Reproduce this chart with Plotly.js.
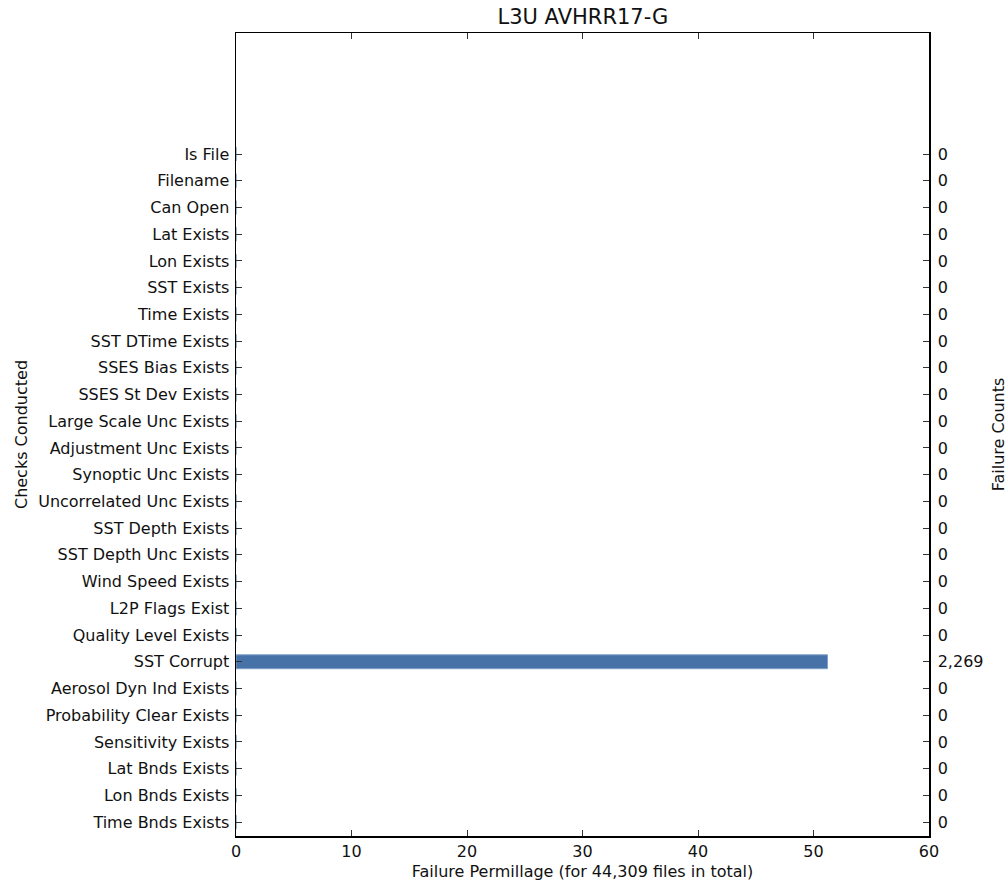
<!DOCTYPE html>
<html>
<head>
<meta charset="utf-8">
<script src="https://cdn.plot.ly/plotly-3.0.1.min.js"></script>
<style>html,body{margin:0;padding:0;background:#fff;}#chart{width:1008px;height:888px;}</style>
</head>
<body>
<div id="chart"></div>
<script>
const checks = ["Is File","Filename","Can Open","Lat Exists","Lon Exists","SST Exists","Time Exists","SST DTime Exists","SSES Bias Exists","SSES St Dev Exists","Large Scale Unc Exists","Adjustment Unc Exists","Synoptic Unc Exists","Uncorrelated Unc Exists","SST Depth Exists","SST Depth Unc Exists","Wind Speed Exists","L2P Flags Exist","Quality Level Exists","SST Corrupt","Aerosol Dyn Ind Exists","Probability Clear Exists","Sensitivity Exists","Lat Bnds Exists","Lon Bnds Exists","Time Bnds Exists"];
const failureCounts = [0,0,0,0,0,0,0,0,0,0,0,0,0,0,0,0,0,0,0,2269,0,0,0,0,0,0];
const failurePermille = [0,0,0,0,0,0,0,0,0,0,0,0,0,0,0,0,0,0,0,51.21,0,0,0,0,0,0];
const xTicks = [0,10,20,30,40,50,60];
const countLabels = failureCounts.map(v => v.toLocaleString('en-US'));
const idx = checks.map((_, i) => i);

const font = "DejaVu Sans, sans-serif";
const txt = '#111';

const traces = [
  {
    type: 'bar', orientation: 'h',
    x: failurePermille, y: idx,
    width: 0.52,
    marker: {color: '#4672a8', line: {color: '#7f9fc8', width: 1}},
    hoverinfo: 'x+text', text: checks, textposition: 'none',
    xaxis: 'x', yaxis: 'y'
  },
  {
    type: 'scatter', mode: 'markers',
    x: failurePermille, y: idx,
    marker: {opacity: 0},
    hoverinfo: 'skip', showlegend: false,
    xaxis: 'x', yaxis: 'y2'
  }
];

const yRange = [25.52, -4.53];

const layout = {
  width: 1008, height: 888,
  margin: {l: 236, r: 79, t: 33, b: 52},
  paper_bgcolor: '#fff', plot_bgcolor: '#fff',
  showlegend: false,
  font: {family: font, size: 16, color: txt},
  title: {text: 'L3U AVHRR17-G', x: 0.5783, xanchor: 'center', y: 0.981, yanchor: 'middle', font: {family: font, size: 21, color: txt}},
  xaxis: {
    range: [0, 60], tickvals: xTicks, ticktext: xTicks.map(String),
    showgrid: false, zeroline: false,
    showline: true, linecolor: '#000', linewidth: 1.5, mirror: 'ticks',
    ticks: 'inside', ticklen: 6, tickcolor: '#333', tickwidth: 1,
    tickfont: {family: font, size: 16, color: txt},
    title: {text: 'Failure Permillage (for 44,309 files in total)', font: {family: font, size: 16, color: txt}, standoff: 6}
  },
  yaxis: {
    range: yRange, tickmode: 'array', tickvals: idx, ticktext: checks,
    showgrid: false, zeroline: false,
    showline: true, linecolor: '#000', linewidth: 1.5,
    ticks: 'inside', ticklen: 6, tickcolor: '#333', tickwidth: 1,
    tickfont: {family: font, size: 16, color: txt},
    ticklabelstandoff: 2,
    title: {text: 'Checks Conducted', font: {family: font, size: 16, color: txt}, standoff: 6}
  },
  yaxis2: {
    overlaying: 'y', side: 'right',
    range: yRange, tickmode: 'array', tickvals: idx, ticktext: countLabels,
    showgrid: false, zeroline: false,
    showline: true, linecolor: '#000', linewidth: 1.5,
    ticks: 'inside', ticklen: 6, tickcolor: '#333', tickwidth: 1,
    tickfont: {family: font, size: 16, color: txt},
    ticklabelstandoff: 4,
    title: {text: 'Failure Counts', font: {family: font, size: 16, color: txt}, standoff: 24}
  }
};

Plotly.newPlot('chart', traces, layout, {displayModeBar: false, staticPlot: true});
</script>
</body>
</html>
